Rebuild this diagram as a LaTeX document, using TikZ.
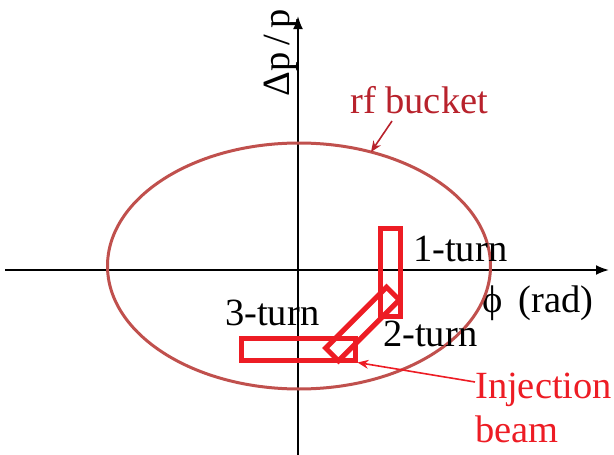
\documentclass[tikz,border=0pt]{standalone}
\usepackage{fontspec}
\setmainfont{Liberation Serif}
\usepackage{xcolor}
\usetikzlibrary{arrows.meta,positioning,calc}
\definecolor{bucketred}{HTML}{C0504D}
\definecolor{bucketlbl}{HTML}{B8222C}
\definecolor{beamred}{HTML}{ED1C24}
\begin{document}
\begin{tikzpicture}[
  x=1pt, y=-1pt,
  every node/.style={font=\fontsize{38.5}{44}\selectfont, inner sep=0pt},
  axis/.style={line width=2pt, -{Latex[length=13pt, width=10pt]}},
  beam/.style={draw=beamred, line width=5pt, minimum width=20pt, minimum height=88pt, rectangle},
  lbl/.style={anchor=base west},
  callout/.style={line width=1.6pt, -{Stealth[length=11pt, width=9pt]}}
]
\useasboundingbox (0,0) rectangle (614,455);
% axes
\coordinate (xl) at (5,270);
\coordinate (xr) at (609,270);
\coordinate (yb) at (298,455);
\coordinate (yt) at (298,16);
\draw[axis] (xl) -- (xr);
\draw[axis] (yb) -- (yt);
\node[rotate=90, anchor=base] (dp) at (289,53) {Δp\,/\,p};
\node[lbl] (phi) at (482,312) {ϕ\, (rad)};
% rf bucket
\draw[bucketred, line width=3pt] (299,266) ellipse [x radius=191.5, y radius=123];
\coordinate (bk) at (371,152);
\node[lbl, text=bucketlbl] (rf) at (350,113) {rf bucket};
\draw[callout, bucketlbl] (392,121) -- (bk);
% injected beam turns
\node[beam] (t1) at (390,272) {};
\node[beam, minimum width=86pt, minimum height=18pt, rotate=45] (t2) at (362.5,324) {};
\node[beam, minimum width=114pt, minimum height=22pt] (t3) at (298,349) {};
\node[lbl] (l1) at (413,261) {1-turn};
\node[lbl] (l2) at (383,346) {2-turn};
\node[lbl] (l3) at (225,325) {3-turn};
% injection label
\node[lbl, text=beamred] (inj) at (475,398) {Injection};
\node[lbl, text=beamred] (bm) at (475,442) {beam};
\draw[callout, beamred] (inj.west |- 0,382) -- (t3.south east);
\end{tikzpicture}
\end{document}
